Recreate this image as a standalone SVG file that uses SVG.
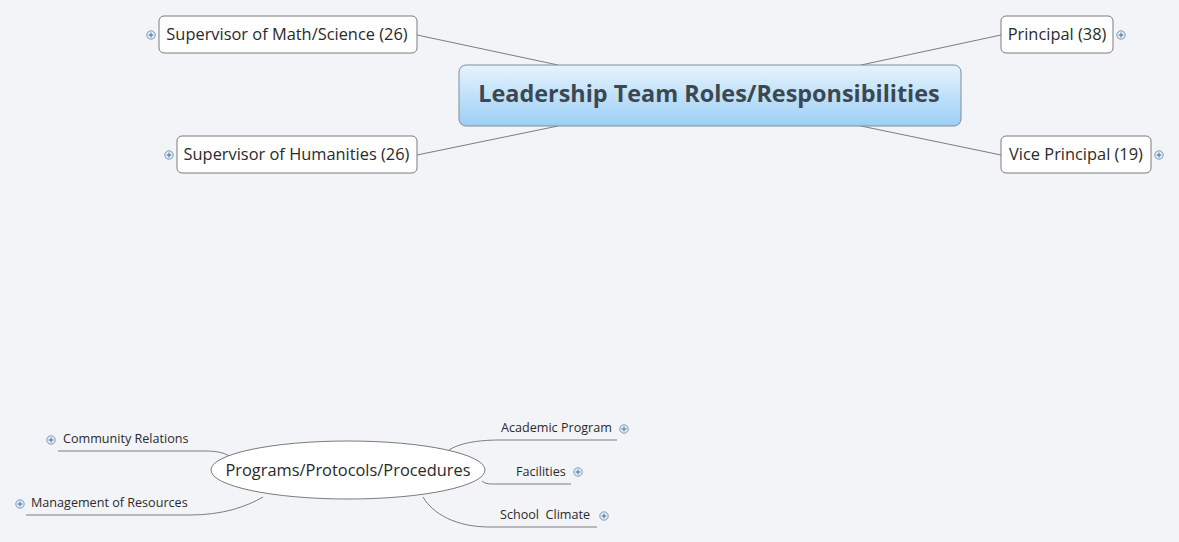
<svg xmlns="http://www.w3.org/2000/svg" width="1179" height="542" viewBox="0 0 1179 542">
<defs>
<linearGradient id="cg" x1="0" y1="0" x2="0" y2="1">
<stop offset="0" stop-color="#e6f3fd"/>
<stop offset="1" stop-color="#9ccff5"/>
</linearGradient>
<g id="exp"><circle r="4.2" fill="#e4eefa" stroke="#6d8fb5" stroke-width="0.9"/><path d="M-2.4 0H2.4M0 -2.4V2.4" stroke="#3c5f8a" stroke-width="0.9"/></g>
</defs>
<style>
.bg{fill:#f2f4f8}
.box{fill:#fff;stroke:#7a7a7a;stroke-width:1}
.t{font-family:"Open Sans","Liberation Sans",sans-serif;fill:#2a2a2a}
.m{font-size:16.4px}
.s{font-size:12.6px}
.ct{font-family:"Open Sans","Liberation Sans",sans-serif;font-size:23.4px;font-weight:bold;fill:#3b4852}
.c{fill:none;stroke:#7d7d7d;stroke-width:1}
</style>
<rect class="bg" width="1179" height="542"/>
<g id="connectors">
<path class="c" d="M417 35L558 65"/>
<path class="c" d="M417 155L558 126"/>
<path class="c" d="M1001 35L861 65"/>
<path class="c" d="M1001 155L861 126"/>
<path class="c" d="M58 451H205C218 451 226 453 232 458"/>
<path class="c" d="M26 515H190C222 515 246 507 263 497"/>
<path class="c" d="M617 440H500C475 440 458 444 449 450"/>
<path class="c" d="M571 484H492C487 484 484 483 482 481"/>
<path class="c" d="M597 527H490C456 527 433 514 423 497"/>
</g>
<g id="central">
<rect x="459" y="65" width="502" height="61" rx="7" fill="url(#cg)" stroke="#7f8c99" stroke-width="1"/>
<text class="ct" x="709" y="101.5" text-anchor="middle">Leadership Team Roles/Responsibilities</text>
</g>
<g id="math">
<rect class="box" x="159" y="16" width="258" height="37" rx="5"/>
<text class="t m" x="287" y="40" text-anchor="middle">Supervisor of Math/Science (26)</text>
<use href="#exp" x="151" y="35"/>
</g>
<g id="principal">
<rect class="box" x="1001" y="16" width="112" height="37" rx="5"/>
<text class="t m" x="1057" y="40" text-anchor="middle">Principal (38)</text>
<use href="#exp" x="1121" y="35"/>
</g>
<g id="humanities">
<rect class="box" x="177" y="136" width="240" height="37" rx="5"/>
<text class="t m" x="296.500" y="160" text-anchor="middle">Supervisor of Humanities (26)</text>
<use href="#exp" x="169" y="155"/>
</g>
<g id="vice">
<rect class="box" x="1001" y="136" width="150" height="37" rx="5"/>
<text class="t m" x="1076" y="160" text-anchor="middle">Vice Principal (19)</text>
<use href="#exp" x="1159" y="155"/>
</g>
<g id="programs">
<ellipse cx="348" cy="470" rx="137" ry="29" fill="#fff" stroke="#7a7a7a" stroke-width="1"/>
<text class="t m" x="348" y="476" text-anchor="middle">Programs/Protocols/Procedures</text>
</g>
<g id="community">
<text class="t s" x="63" y="443">Community Relations</text>
<use href="#exp" x="51" y="440"/>
</g>
<g id="management">
<text class="t s" x="31" y="507">Management of Resources</text>
<use href="#exp" x="20" y="504"/>
</g>
<g id="academic">
<text class="t s" x="501" y="432">Academic Program</text>
<use href="#exp" x="624" y="429"/>
</g>
<g id="facilities">
<text class="t s" x="516" y="476">Facilities</text>
<use href="#exp" x="578" y="472"/>
</g>
<g id="climate">
<text class="t s" x="500" y="519" xml:space="preserve">School  Climate</text>
<use href="#exp" x="604" y="516"/>
</g>
</svg>
